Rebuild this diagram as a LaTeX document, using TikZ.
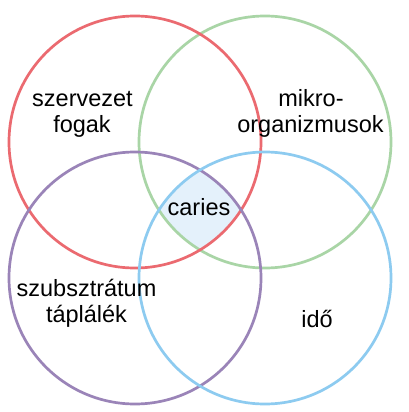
\documentclass[tikz,border=0pt]{standalone}
\usepackage{fontspec}
\setmainfont{Liberation Sans}
\definecolor{cred}{HTML}{EB6A70}
\definecolor{cgreen}{HTML}{A9D5A6}
\definecolor{cpurple}{HTML}{9A84B8}
\definecolor{cblue}{HTML}{8DCBF0}
\definecolor{cfill}{HTML}{E4F1FB}
\begin{document}
\begin{tikzpicture}[x=1pt,y=-1pt,
  ring/.style={line width=2.7pt},
  lbl/.style={anchor=base,inner sep=0pt,font=\fontsize{23.5}{26}\selectfont}]
\useasboundingbox (0,0) rectangle (408,412);
\fill[white] (0,0) rectangle (408,412);
% shaded centre: intersection of all four circles
\begin{scope}
  \clip (135,142) circle[radius=126];
  \clip (265,142) circle[radius=126];
  \clip (135,278) circle[radius=126];
  \fill[cfill] (265,278) circle[radius=126];
\end{scope}
\draw[ring,cgreen] (265,142) circle[radius=126];
\draw[ring,cred] (135,142) circle[radius=126];
\draw[ring,cpurple] (135,278) circle[radius=126];
\draw[ring,cblue] (265,278) circle[radius=126];
\node[lbl] (szervezet) at (82.5,106) {szervezet};
\node[lbl] (fogak) at (82,132) {fogak};
\node[lbl] (mikro) at (311,106) {mikro-};
\node[lbl] (organizmusok) at (310.5,132) {organizmusok};
\node[lbl] (caries) at (199,215) {caries};
\node[lbl] (szubsztratum) at (86.5,296) {szubsztrátum};
\node[lbl] (taplalek) at (86.5,322) {táplálék};
\node[lbl] (ido) at (317,327) {idő};
\end{tikzpicture}
\end{document}
